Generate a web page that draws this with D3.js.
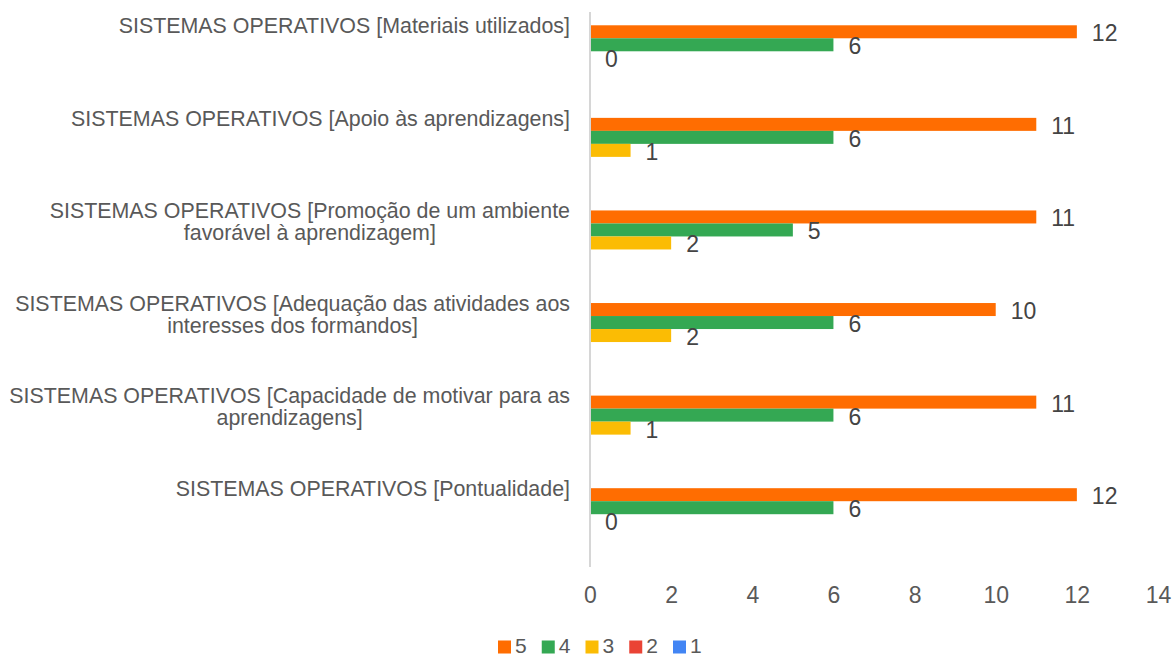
<!DOCTYPE html>
<html>
<head>
<meta charset="utf-8">
<script src="https://cdn.jsdelivr.net/npm/d3@7"></script>
<style>
  html, body { margin: 0; padding: 0; background: #fff; }
  svg { display: block; font-family: "Liberation Sans", Arial, sans-serif; }
</style>
</head>
<body>
<svg id="chart" width="1175" height="657"></svg>
<script>
// Categories (line breaks as in the reference)
const categories = [
  ["SISTEMAS OPERATIVOS [Materiais utilizados]"],
  ["SISTEMAS OPERATIVOS [Apoio às aprendizagens]"],
  ["SISTEMAS OPERATIVOS [Promoção de um ambiente", "favorável à aprendizagem]"],
  ["SISTEMAS OPERATIVOS [Adequação das atividades aos", "interesses dos formandos]"],
  ["SISTEMAS OPERATIVOS [Capacidade de motivar para as", "aprendizagens]"],
  ["SISTEMAS OPERATIVOS [Pontualidade]"]
];
const seriesNames = ["5", "4", "3", "2", "1"];
const values5 = [12, 11, 11, 10, 11, 12];
const values4 = [6, 6, 5, 6, 6, 6];
const values3 = [0, 1, 2, 2, 1, 0];
const values2 = [null, null, null, null, null, null];
const values1 = [null, null, null, null, null, null];
const xTicks = [0, 2, 4, 6, 8, 10, 12, 14];
const colors = ["#FF6D01", "#34A853", "#FBBC04", "#EA4335", "#4285F4"];

const seriesValues = [values5, values4, values3, values2, values1];

const svg = d3.select("#chart");
const x = d3.scaleLinear().domain([0, 14]).range([590, 1158]);
const y0 = d3.scaleBand().domain(d3.range(categories.length)).range([11.5, 567]).padding(0);
const y1 = d3.scaleBand().domain(d3.range(seriesNames.length)).range([0, y0.bandwidth()])
  .paddingInner(0).paddingOuter(1.06);

const rows = [];
categories.forEach((c, i) => {
  seriesValues.forEach((vals, s) => {
    rows.push({ cat: i, s: s, v: vals[i] });
  });
});

const g = svg.append("g");
g.selectAll("rect.bar")
  .data(rows.filter(d => d.v !== null && d.v > 0))
  .join("rect")
  .attr("class", "bar")
  .attr("x", x(0))
  .attr("y", d => y0(d.cat) + y1(d.s))
  .attr("width", d => x(d.v) - x(0))
  .attr("height", y1.bandwidth())
  .attr("fill", d => colors[d.s]);

// vertical axis line
svg.append("line")
  .attr("x1", x(0)).attr("x2", x(0))
  .attr("y1", 12).attr("y2", 567)
  .attr("stroke", "#d6d6d6").attr("stroke-width", 2);

// data labels
g.selectAll("text.dl")
  .data(rows.filter(d => d.v !== null))
  .join("text")
  .attr("class", "dl")
  .attr("x", d => x(d.v) + 15)
  .attr("y", d => y0(d.cat) + y1(d.s) + y1.bandwidth() / 2 + 1.5)
  .attr("dominant-baseline", "central")
  .attr("font-size", 23)
  .attr("fill", "#444444")
  .text(d => d.v);

// x axis tick labels
const xAxis = d3.axisBottom(x).tickValues(xTicks).tickSize(0).tickPadding(0).tickFormat(d3.format("d"));
const xa = svg.append("g").attr("transform", "translate(0,587)").call(xAxis);
xa.select(".domain").remove();
xa.selectAll("text")
  .attr("font-size", 23)
  .attr("font-family", "Liberation Sans, Arial, sans-serif")
  .attr("fill", "#595959")
  .attr("dy", "0.71em");

// category labels: right edge of the block at 570, lines centred within block
const cl = svg.append("g");
categories.forEach((lines, i) => {
  const t = cl.append("text")
    .attr("text-anchor", "middle")
    .attr("font-size", 21.4)
    .attr("fill", "#595959");
  const spans = lines.map((ln, k) =>
    t.append("tspan")
      .attr("y", y0(i) + 14.5 + k * 22)
      .attr("dominant-baseline", "central")
      .text(ln));
  const maxW = d3.max(spans, s => s.node().getComputedTextLength());
  spans.forEach(s => s.attr("x", 570 - maxW / 2));
});

// legend
const lg = svg.append("g");
seriesNames.forEach((name, i) => {
  const lx = 498 + i * 43.75;
  lg.append("rect").attr("x", lx).attr("y", 640.5).attr("width", 13).attr("height", 13).attr("fill", colors[i]);
  lg.append("text").attr("x", lx + 17).attr("y", 645.5)
    .attr("dominant-baseline", "central")
    .attr("font-size", 21).attr("fill", "#595959").text(name);
});
</script>
</body>
</html>
